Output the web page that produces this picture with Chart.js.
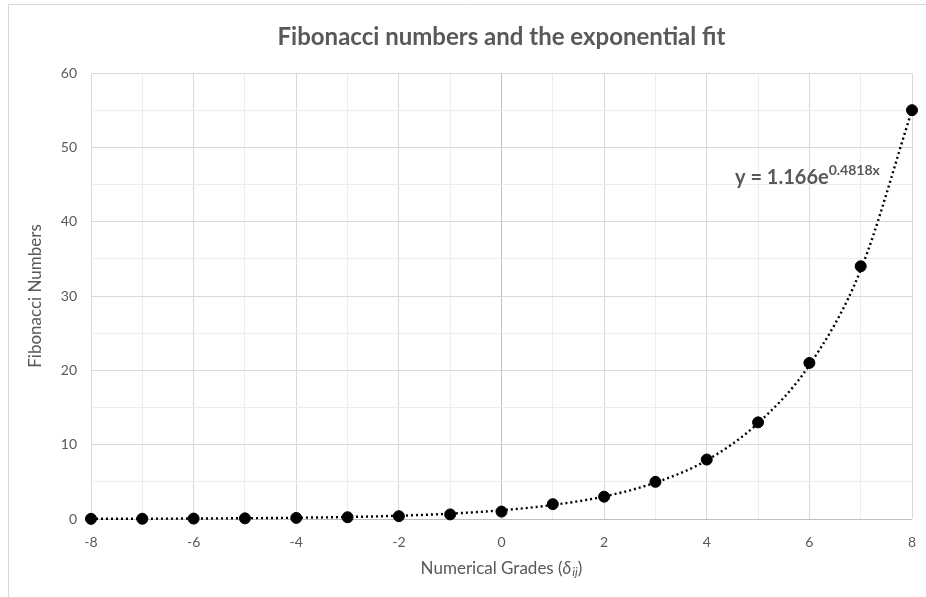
<!DOCTYPE html>
<html>
<head>
<meta charset="utf-8">
<script src="https://cdn.jsdelivr.net/npm/chart.js@4"></script>
<style>
  html, body { margin: 0; padding: 0; background: #fff; }
  #wrap { width: 926px; height: 597px; }
</style>
</head>
<body>
<div id="wrap"><canvas id="myChart" width="926" height="597"></canvas></div>
<script>
// grades and the fibonacci values
const grades = [-8, -7, -6, -5, -4, -3, -2, -1, 0, 1, 2, 3, 4, 5, 6, 7, 8];
const fibValues = [0.021, 0.034, 0.056, 0.09, 0.146, 0.236, 0.382, 0.618, 1, 2, 3, 5, 8, 13, 21, 34, 55];

// dotted exponential trendline, values read at each grade
const trendValues = [0.025, 0.040, 0.065, 0.105, 0.17, 0.27, 0.44, 0.72, 1.17, 1.89, 3.03, 4.9, 7.9, 12.9, 20.7, 33.5, 55.0];

const xTicks = [-8, -6, -4, -2, 0, 2, 4, 6, 8];
const yTicks = [0, 10, 20, 30, 40, 50, 60];

const grey = '#595959';
const font = "Lato, 'Open Sans', sans-serif";

const decor = {
  id: 'decor',
  beforeDraw(chart) {
    const c = chart.ctx;
    c.save();
    c.fillStyle = '#fff';
    c.fillRect(0, 0, chart.width, chart.height);
    c.strokeStyle = '#d9d9d9';
    c.lineWidth = 1;
    c.beginPath();
    c.moveTo(8.5, chart.height);
    c.lineTo(8.5, 4.5);
    c.lineTo(chart.width, 4.5);
    c.stroke();
    c.restore();
  },
  afterDraw(chart) {
    const c = chart.ctx;
    const a = chart.chartArea;
    const xs = chart.scales.x, ys = chart.scales.y;
    c.save();
    // title
    c.fillStyle = grey;
    c.font = "bold 24px " + font;
    c.textAlign = 'center';
    c.textBaseline = 'middle';
    c.fillText('Fibonacci numbers and the exponential fit', (a.left + a.right) / 2, 37);

    // y title
    c.font = "17px " + font;
    c.save();
    c.translate(36, (a.top + a.bottom) / 2);
    c.rotate(-Math.PI / 2);
    c.fillText('Fibonacci Numbers', 0, 0);
    c.restore();

    // x title with subscript
    const p1 = 'Numerical Grades (';
    const p2 = '\u03B4';
    const p3 = 'ij';
    const p4 = ')';
    c.font = "17px " + font;
    const w1 = c.measureText(p1).width;
    const w4 = c.measureText(p4).width;
    c.font = "italic 17px " + font;
    const w2 = c.measureText(p2).width;
    c.font = "italic 12px " + font;
    const w3 = c.measureText(p3).width;
    let x = (a.left + a.right) / 2 - (w1 + w2 + w3 + w4 + 1) / 2;
    const y = 569;
    c.textAlign = 'left';
    c.font = "17px " + font;
    c.fillText(p1, x, y); x += w1;
    c.font = "italic 17px " + font;
    c.fillText(p2, x, y); x += w2 + 1;
    c.font = "italic 12px " + font;
    c.fillText(p3, x, y + 3); x += w3;
    c.font = "17px " + font;
    c.fillText(p4, x, y);

    // trendline equation
    const ex = xs.getPixelForValue(4.55);
    const ey = ys.getPixelForValue(46.2);
    c.textBaseline = 'alphabetic';
    c.font = "bold 20px " + font;
    const base = 'y = 1.166e';
    c.fillText(base, ex, ey + 8);
    const bw = c.measureText(base).width;
    c.font = "bold 14px " + font;
    c.fillText('0.4818x', ex + bw, ey - 1);
    c.restore();
  }
};

new Chart(document.getElementById('myChart'), {
  type: 'scatter',
  data: {
    datasets: [
      {
        label: 'Trend',
        type: 'line',
        data: grades.map((g, i) => ({ x: g, y: trendValues[i] })),
        borderColor: '#000',
        borderWidth: 2.4,
        borderDash: [2, 3],
        pointRadius: 0,
        fill: false,
        cubicInterpolationMode: 'monotone',
        order: 2
      },
      {
        label: 'Fibonacci',
        data: grades.map((g, i) => ({ x: g, y: fibValues[i] })),
        backgroundColor: '#000',
        borderColor: '#000',
        pointRadius: 5.5,
        pointHoverRadius: 5.5,
        showLine: false,
        order: 1
      }
    ]
  },
  options: {
    responsive: false,
    animation: false,
    clip: false,
    layout: { padding: { left: 10, right: 14, top: 73, bottom: 0 } },
    plugins: {
      legend: { display: false },
      tooltip: { enabled: false },
      title: { display: false }
    },
    scales: {
      x: {
        type: 'linear',
        min: -8,
        max: 8,
        afterBuildTicks(scale) {
          scale.ticks = [];
          for (let v = -8; v <= 8; v++) scale.ticks.push({ value: v });
        },
        afterFit(scale) {
          scale.height = 78;
          scale.paddingLeft = 0;
          scale.paddingRight = 0;
        },
        grid: {
          drawTicks: false,
          color: ctx => {
            const v = ctx.tick.value;
            if (v === 0) return '#bfbfbf';
            return xTicks.includes(v) ? '#d9d9d9' : '#ededed';
          },
          lineWidth: 1
        },
        border: { display: false },
        ticks: {
          padding: 15,
          color: grey,
          font: { family: font, size: 14 },
          maxRotation: 0,
          autoSkip: false,
          callback: v => xTicks.includes(v) ? String(v) : ''
        }
      },
      y: {
        type: 'linear',
        min: 0,
        max: 60,
        afterBuildTicks(scale) {
          scale.ticks = [];
          for (let v = 0; v <= 60; v += 5) scale.ticks.push({ value: v });
        },
        afterFit(scale) {
          scale.width = 81;
          scale.paddingTop = 0;
          scale.paddingBottom = 0;
        },
        grid: {
          drawTicks: false,
          color: ctx => {
            const v = ctx.tick.value;
            if (v === 0) return '#bfbfbf';
            return yTicks.includes(v) ? '#d9d9d9' : '#ededed';
          },
          lineWidth: 1
        },
        border: { display: false },
        ticks: {
          padding: 14,
          color: grey,
          font: { family: font, size: 14 },
          autoSkip: false,
          callback: v => yTicks.includes(v) ? String(v) : ''
        }
      }
    }
  },
  plugins: [decor]
});
</script>
</body>
</html>
